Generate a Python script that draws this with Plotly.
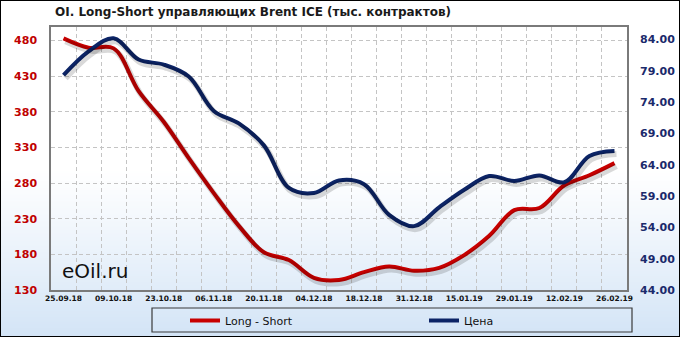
import base64
import struct
import zlib
import plotly.graph_objects as go

dates = ["25.09.18", "02.10.18", "09.10.18", "16.10.18", "23.10.18", "30.10.18",
         "06.11.18", "13.11.18", "20.11.18", "27.11.18", "04.12.18", "11.12.18",
         "18.12.18", "24.12.18", "31.12.18", "08.01.19", "15.01.19", "22.01.19",
         "29.01.19", "05.02.19", "12.02.19", "19.02.19", "26.02.19"]
long_short = [483, 470, 469, 409, 366, 315, 266, 220, 183, 172, 147, 144, 155,
              163, 157, 161, 179, 206, 242, 245, 277, 291, 308]
price = [78.3, 82.1, 84.2, 80.8, 80.0, 78.1, 72.6, 70.6, 67.1, 60.3, 59.5, 61.5,
         60.9, 56.0, 54.2, 57.2, 60.0, 62.2, 61.4, 62.3, 61.2, 65.4, 66.2]
left_ticks = [130, 180, 230, 280, 330, 380, 430, 480]
right_ticks = [44, 49, 54, 59, 64, 69, 74, 79, 84]

W, H = 680, 337
L, R, T, B = 51, 53, 27, 47
PW, PH = W - L - R, H - T - B

x = list(range(len(dates)))
xr = [-0.5, len(dates) - 0.5]
yr_l = [130, 499]
yr_r = [44, 86]

# shadow offsets (px)
sdx, sdy = 2, 3
ux = PW / (xr[1] - xr[0])
uyl = PH / (yr_l[1] - yr_l[0])
uyr = PH / (yr_r[1] - yr_r[0])


def background_png(w, h):
    top = (255, 255, 255)
    bot = (211, 228, 246)
    rows = []
    for j in range(h):
        t = j / (h - 1)
        f = 0.0 if t < 0.5 else ((t - 0.5) / 0.5) ** 1.1
        c = bytes(int(round(top[k] + (bot[k] - top[k]) * f)) for k in range(3))
        if j == 0 or j == h - 1:
            row = b"\x00\x00\x00" * w
        else:
            row = b"\x00\x00\x00" + c * (w - 2) + b"\x00\x00\x00"
        rows.append(b"\x00" + row)
    raw = b"".join(rows)

    def chunk(tag, data):
        return struct.pack(">I", len(data)) + tag + data + struct.pack(">I", zlib.crc32(tag + data) & 0xffffffff)

    png = b"\x89PNG\r\n\x1a\n" + chunk(b"IHDR", struct.pack(">IIBBBBB", w, h, 8, 2, 0, 0, 0))
    png += chunk(b"IDAT", zlib.compress(raw, 9)) + chunk(b"IEND", b"")
    return "data:image/png;base64," + base64.b64encode(png).decode()


src = background_png(W, H)

red = "#c80000"
navy = "#0c2466"

fig = go.Figure()
# shadows
fig.add_trace(go.Scatter(x=x, y=long_short, mode="lines", line=dict(color="rgba(0,0,0,0.15)", width=6, shape="spline"),
                         xaxis="x2", yaxis="y3", showlegend=False, hoverinfo="skip"))
fig.add_trace(go.Scatter(x=x, y=price, mode="lines", line=dict(color="rgba(0,0,0,0.15)", width=6, shape="spline"),
                         xaxis="x2", yaxis="y4", showlegend=False, hoverinfo="skip"))
fig.add_trace(go.Scatter(x=x, y=long_short, mode="lines", name="Long - Short",
                         line=dict(color=red, width=4, shape="spline")))
fig.add_trace(go.Scatter(x=x, y=price, mode="lines", name="Цена", yaxis="y2",
                         line=dict(color=navy, width=4, shape="spline")))

fig.update_layout(
    width=W, height=H, margin=dict(l=L, r=R, t=T, b=B, autoexpand=False),
    paper_bgcolor="white", plot_bgcolor="rgba(0,0,0,0)",
    images=[dict(source=src, xref="paper", yref="paper", x=-L / PW, y=1 + T / PH,
                 sizex=W / PW, sizey=H / PH, sizing="stretch", layer="below",
                 xanchor="left", yanchor="top")],
    title=dict(text="OI. Long-Short управляющих Brent ICE (тыс. контрактов)",
               x=55 / W, xanchor="left", y=1 - 12 / H, yanchor="middle",
               font=dict(family="DejaVu Sans", size=12, color="#1a1a1a", weight="bold")),
    xaxis=dict(range=xr, tickmode="array", tickvals=x[::2], ticktext=dates[::2],
               showgrid=False, zeroline=False, showline=True, mirror=True,
               linecolor="#7a7a7a", linewidth=1.5, ticks="",
               tickfont=dict(family="DejaVu Sans", size=7.5, color="#111", weight="bold"),
               minor=dict(tick0=0.5, dtick=1, showgrid=True, gridcolor="#c4c4c4",
                          griddash="4px,3px", gridwidth=1, ticks="")),
    xaxis2=dict(range=[xr[0] - sdx / ux, xr[1] - sdx / ux], overlaying="x", visible=False),
    yaxis=dict(range=yr_l, tickmode="array", tickvals=left_ticks, showgrid=True,
               gridcolor="#c4c4c4", griddash="4px,3px", gridwidth=1, zeroline=False,
               showline=True, mirror=True, linecolor="#7a7a7a", linewidth=1.5,
               ticks="", ticklabelstandoff=10,
               tickfont=dict(family="DejaVu Sans", size=11, color="#c00000", weight="bold")),
    yaxis2=dict(range=yr_r, overlaying="y", side="right", tickmode="array",
                tickvals=right_ticks, tickformat=".2f", showgrid=False, zeroline=False,
                ticks="", ticklabelstandoff=12,
                tickfont=dict(family="DejaVu Sans", size=11, color="#1b2a6b", weight="bold")),
    yaxis3=dict(range=[yr_l[0] + sdy / uyl, yr_l[1] + sdy / uyl], overlaying="y", visible=False),
    yaxis4=dict(range=[yr_r[0] + sdy / uyr, yr_r[1] + sdy / uyr], overlaying="y", visible=False),
    legend=dict(orientation="h", x=(185 - L) / PW, xanchor="left", y=(H - B - 306) / PH,
                yanchor="top", bgcolor="rgba(0,0,0,0)", borderwidth=0,
                entrywidth=194, entrywidthmode="pixels",
                font=dict(family="DejaVu Sans", size=11, color="#111")),
    shapes=[dict(type="rect", xref="paper", yref="paper",
                 x0=(152 - L) / PW, x1=(632 - L) / PW,
                 y0=(H - B - 332) / PH, y1=(H - B - 308) / PH,
                 line=dict(color="#3a3a3a", width=1.2), fillcolor="rgba(0,0,0,0)")],
    annotations=[dict(text="eOil.ru", xref="paper", yref="paper", x=(60 - L) / PW,
                      y=(H - B - 271) / PH, xanchor="left", yanchor="middle",
                      showarrow=False, font=dict(family="DejaVu Sans", size=20, color="#111"))],
)

fig.write_html("out.html")
